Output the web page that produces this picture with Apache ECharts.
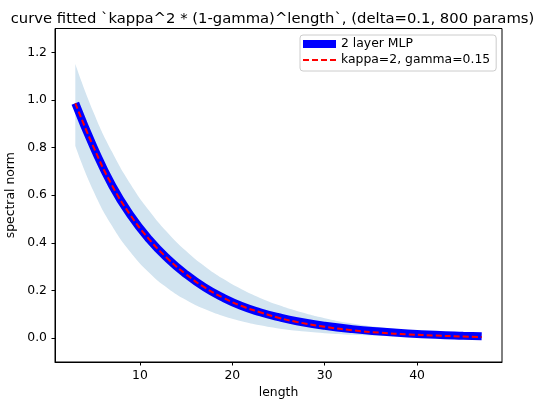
<!DOCTYPE html>
<html>
<head>
<meta charset="utf-8">
<script src="https://cdn.jsdelivr.net/npm/echarts@6/dist/echarts.min.js"></script>
<style>
html,body{margin:0;padding:0;background:#fff;}
#chart{width:545px;height:401px;}
</style>
</head>
<body>
<div id="chart"></div>
<script>
const titleText = "curve fitted `kappa^2 * (1-gamma)^length`, (delta=0.1, 800 params)";
const lengths    = [3, 5, 7, 9, 11, 13, 15, 17, 19, 21, 23, 25, 27, 30, 33, 36, 39, 42, 45, 47];
const mlpMean    = [0.986, 0.80, 0.64, 0.515, 0.415, 0.334, 0.268, 0.213, 0.17, 0.135, 0.109, 0.088, 0.071, 0.052, 0.038, 0.028, 0.020, 0.014, 0.010, 0.008];
const fitCurve   = [0.986, 0.80, 0.64, 0.515, 0.415, 0.334, 0.268, 0.213, 0.17, 0.135, 0.109, 0.086, 0.068, 0.048, 0.033, 0.023, 0.016, 0.011, 0.007, 0.005];
const bandUpper  = [1.151, 0.945, 0.78, 0.645, 0.535, 0.443, 0.366, 0.302, 0.249, 0.205, 0.169, 0.139, 0.114, 0.084, 0.062, 0.046, 0.034, 0.025, 0.018, 0.015];
const bandLower  = [0.807, 0.615, 0.47, 0.36, 0.275, 0.21, 0.16, 0.122, 0.093, 0.071, 0.054, 0.041, 0.031, 0.021, 0.014, 0.009, 0.006, 0.004, 0.003, 0.002];
const xTicks = [10, 20, 30, 40];
const yTicks = [0.0, 0.2, 0.4, 0.6, 0.8, 1.0, 1.2];
const legendNames = ["2 layer MLP", "kappa=2, gamma=0.15"];

const pairs = (ys) => lengths.map((x, i) => [x, ys[i]]);
// band rows stored as [y, x] so the stack is applied to the y values
const bandLowRows = lengths.map((x, i) => [bandLower[i], x]);
const bandDiffRows = lengths.map((x, i) => [bandUpper[i] - bandLower[i], x]);

const FONT = "DejaVu Sans";
const FS = 12.4;
const chart = echarts.init(document.getElementById('chart'), null, {renderer: 'canvas'});
chart.setOption({
  animation: false,
  backgroundColor: '#ffffff',
  title: {
    text: titleText,
    left: 'center',
    top: 7,
    textStyle: {fontFamily: FONT, fontSize: 14.8, fontWeight: 'normal', color: '#000'}
  },
  legend: {
    orient: 'vertical',
    left: 300,
    top: 35,
    padding: [3, 6, 5, 2],
    itemGap: 4,
    itemWidth: 33,
    itemHeight: 8,
    backgroundColor: 'rgba(255,255,255,0.8)',
    borderColor: '#cccccc',
    borderWidth: 1,
    borderRadius: 3,
    textStyle: {fontFamily: FONT, fontSize: FS, color: '#000'},
    data: [
      {name: legendNames[0], icon: 'rect', itemStyle: {color: '#0000ff'}},
      {name: legendNames[1], itemStyle: {color: 'rgba(0,0,0,0)', borderWidth: 0}}
    ]
  },
  grid: {
    left: 55, right: 43, top: 28.5, bottom: 39,
    outerBoundsMode: 'none', containLabel: false,
    show: true, borderColor: '#000', borderWidth: 1, backgroundColor: 'transparent'
  },
  xAxis: {
    type: 'value',
    min: 0.8, max: 49.2,
    name: 'length',
    nameLocation: 'middle',
    nameGap: 24,
    nameTextStyle: {fontFamily: FONT, fontSize: FS, color: '#000'},
    axisLine: {show: true, onZero: false, lineStyle: {color: '#000', width: 1}},
    axisTick: {show: true, length: 3.5, inside: false, customValues: xTicks, lineStyle: {color: '#000'}},
    axisLabel: {margin: 7.5, customValues: xTicks, fontFamily: FONT, fontSize: FS, color: '#000',
      formatter: v => String(Math.round(v))},
    splitLine: {show: false}
  },
  yAxis: {
    type: 'value',
    min: -0.1, max: 1.3,
    name: 'spectral norm',
    nameLocation: 'middle',
    nameGap: 30,
    nameTextStyle: {fontFamily: FONT, fontSize: FS, color: '#000'},
    axisLine: {show: true, onZero: false, lineStyle: {color: '#000', width: 1}},
    axisTick: {show: true, length: 3.5, inside: false, customValues: yTicks, lineStyle: {color: '#000'}},
    axisLabel: {margin: 8, customValues: yTicks, fontFamily: FONT, fontSize: FS, color: '#000',
      formatter: v => v.toFixed(1)},
    splitLine: {show: false}
  },
  series: [
    {
      name: 'bandLow', type: 'line', stack: 'band', data: bandLowRows,
      encode: {x: 1, y: 0},
      symbol: 'none', smooth: 0.5, lineStyle: {opacity: 0}, silent: true, z: 1
    },
    {
      name: 'bandUp', type: 'line', stack: 'band', data: bandDiffRows,
      encode: {x: 1, y: 0},
      symbol: 'none', smooth: 0.5, lineStyle: {opacity: 0},
      areaStyle: {color: 'rgb(210,228,240)', opacity: 1}, silent: true, z: 1
    },
    {
      name: legendNames[0], type: 'line', data: pairs(mlpMean),
      symbol: 'none', smooth: 0.5, itemStyle: {color: '#0000ff'},
      lineStyle: {color: '#0000ff', width: 8, cap: 'butt'}, z: 2
    },
    {
      name: legendNames[1], type: 'line', data: pairs(fitCurve),
      symbol: 'none', smooth: 0.5, itemStyle: {color: '#ff0000'},
      lineStyle: {color: '#ff0000', width: 2, type: [6, 3]}, z: 3
    }
  ]
});
</script>
</body>
</html>
